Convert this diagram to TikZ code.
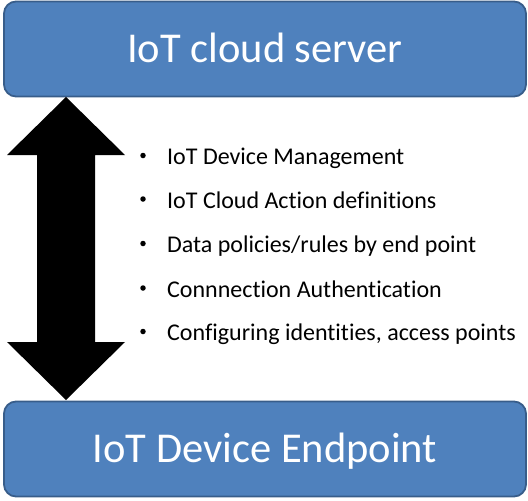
\documentclass[tikz,border=0pt]{standalone}
\usepackage{fontspec}
\setmainfont{Carlito}[Ligatures={NoCommon}]
\definecolor{boxfill}{HTML}{4F81BD}
\definecolor{boxline}{HTML}{385D8A}
\begin{document}
\begin{tikzpicture}[x=1pt,y=-1pt,
  bluebox/.style={draw=boxline,line width=1.8pt,fill=boxfill,rounded corners=12pt,
    minimum width=522pt,minimum height=95pt,inner sep=0pt,text=white,
    text height=27.4pt,text depth=0pt,font=\fontsize{42.5}{50}\selectfont},
  item/.style={anchor=west,inner sep=0pt,text height=15.5pt,text depth=0pt,
    font=\fontsize{24}{28}\selectfont},
  dot/.style={circle,fill=black,inner sep=0pt,minimum size=5.5pt}]
\useasboundingbox (0,0) rectangle (528,501);
\node[bluebox] (server) at (265,49) {IoT cloud server};
\node[bluebox] (device) at (265,449) {IoT Device Endpoint};
\coordinate (tt) at (66,97);
\coordinate (bt) at (66,400);
\fill[black] (tt) -- (125,155) -- (95,155) -- (95,342) -- (125,342) -- (bt)
  -- (7,342) -- (37,342) -- (37,155) -- (7,155) -- cycle;
\foreach \y/\t [count=\i] in {157/{IoT Device Management},200.5/{IoT Cloud Action definitions},
  245/{Data policies{/}rules by end point},289.5/{Connnection Authentication},
  333/{Configuring identities, access points}}{
  \node[dot] (b\i) at (143,\y-1.5) {};
  \node[item] (t\i) at (167,\y) {\t};
}
\end{tikzpicture}
\end{document}
